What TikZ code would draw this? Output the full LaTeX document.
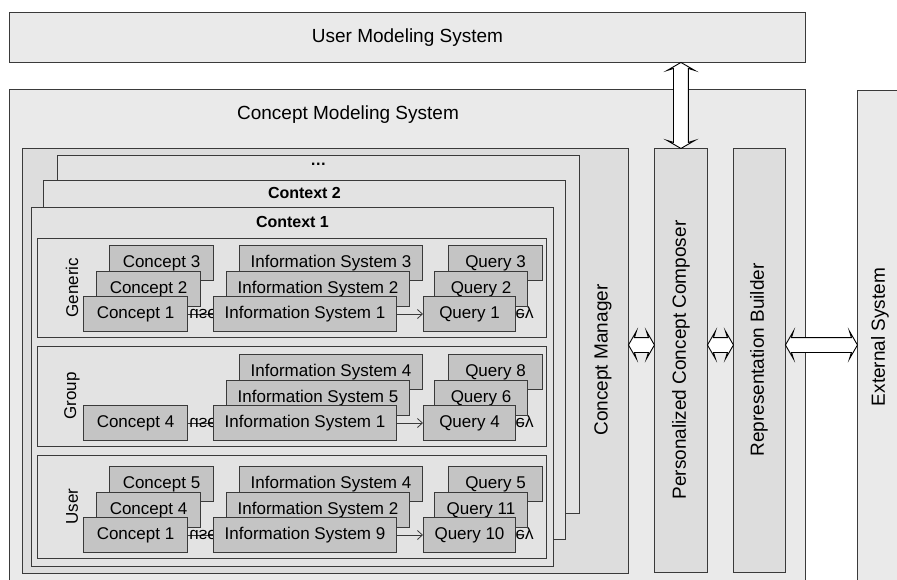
\documentclass[tikz,border=0pt]{standalone}
\usepackage{fontspec}
\setmainfont{Liberation Sans}
\usetikzlibrary{shapes.arrows,arrows.meta}
\pgfdeclarelayer{bg}
\pgfdeclarelayer{mid}
\pgfsetlayers{bg,mid,main}
\definecolor{sysfill}{HTML}{EAEAEA}
\definecolor{colfill}{HTML}{DDDDDD}
\definecolor{ctxfill}{HTML}{E3E3E3}
\definecolor{itemfill}{HTML}{C4C4C4}
\definecolor{edge}{HTML}{3A3A3A}
\tikzset{
  sys/.style={draw=edge, line width=0.9pt, fill=sysfill, anchor=north west, inner sep=0, font=\fontsize{19}{22}\selectfont},
  colbox/.style={draw=edge, line width=0.9pt, fill=colfill, anchor=north west, inner sep=0},
  ctxbox/.style={draw=edge, line width=0.9pt, fill=ctxfill, anchor=north west, inner sep=0},
  itembox/.style={draw=edge, line width=1pt, fill=itemfill, anchor=north west, inner sep=0, font=\fontsize{17}{20}\selectfont},
  vlab/.style={rotate=90, inner sep=0, font=\fontsize{19}{22}\selectfont},
  ctxlab/.style={inner sep=0, font=\fontsize{16}{19}\selectfont\bfseries},
  rowlab/.style={rotate=90, inner sep=0, font=\fontsize{17}{20}\selectfont},
  flip/.style={yscale=-1, inner sep=0, font=\fontsize{17}{20}\selectfont},
  conn/.style={draw=edge, line width=0.8pt},
  dblarrow/.style={double arrow, draw=black, line width=0.9pt, fill=white, inner xsep=0, inner ysep=7pt, double arrow head extend=6.5pt, double arrow tip angle=120, double arrow head indent=2pt}
}
\begin{document}
\begin{tikzpicture}[x=1pt, y=-1pt, >={Straight Barb[length=5pt,width=9pt]}]
	\def\cw{104} \def\iw{183} \def\qw{92} \def\bh{35} % box sizes
	\useasboundingbox (0,0) rectangle (897,579);
	\clip (0,0) rectangle (897,579);
	\begin{pgfonlayer}{bg}
		\node[sys, minimum width=796, minimum height=50] (ums) at (9,12) {User Modeling System};
		\node[sys, minimum width=796, minimum height=520] (cms) at (9,89) {};
		\node[sys, minimum width=60, minimum height=520] (ext) at (857,90) {};
		\node[colbox, minimum width=606, minimum height=425] (cmgr) at (22,148) {};
		\node[colbox, minimum width=53, minimum height=424] (pcc) at (654,148) {};
		\node[colbox, minimum width=52, minimum height=424] (rb) at (733,148) {};
		\node[ctxbox, minimum width=522, minimum height=358] (ctx3) at (57,155) {};
		\node[ctxbox, minimum width=522, minimum height=359] (ctx2) at (43,180) {};
		\node[ctxbox, minimum width=522, minimum height=359] (ctx1) at (31,207) {};
	\end{pgfonlayer}
	\node[sys, draw=none, fill=none, anchor=center] (cmsl) at (348,115) {Concept Modeling System};
	\node[vlab] (extl) at (880,337) {External System};
	\node[vlab] (cmgrl) at (603,360) {Concept Manager};
	\node[vlab] (pccl) at (681,360) {Personalized Concept Composer};
	\node[vlab] (rbl) at (759,360) {Representation Builder};
	\node[ctxlab] (ctx3l) at ([yshift=-9]ctx3.north) {\dots};
	\node[ctxlab] (ctx2l) at ([yshift=-13]ctx2.north) {Context 2};
	\node[ctxlab] (ctx1l) at ([yshift=-15]ctx1.north) {Context 1};
	% rows of context 1
	\foreach \n/\lab/\top/\bot/\nc/\ca/\cb/\cc/\ia/\ib/\ic/\qa/\qb/\qc in {
		gen/Generic/238/337/3/Concept 3/Concept 2/Concept 1/Information System 3/Information System 2/Information System 1/Query 3/Query 2/Query 1,
		grp/Group/346/446/1/-/-/Concept 4/Information System 4/Information System 5/Information System 1/Query 8/Query 6/Query 4,
		usr/User/455/558/3/Concept 5/Concept 4/Concept 1/Information System 4/Information System 2/Information System 9/Query 5/Query 11/Query 10}{
		\pgfmathsetmacro\fy{\bot-6-\bh}
		\begin{pgfonlayer}{bg}
			\node[ctxbox, minimum width=509, minimum height=\bot-\top] (row-\n) at (37,\top) {};
		\end{pgfonlayer}
		\node[rowlab] (lab-\n) at (72,{(\top+\bot)/2}) {\lab};
		\ifnum\nc>1
			\node[itembox, minimum width=\cw, minimum height=\bh] (\n-c3) at (109,\fy-51) {\ca};
			\node[itembox, minimum width=\cw, minimum height=\bh] (\n-c2) at (96,\fy-25) {\cb};
		\fi
		\node[itembox, minimum width=\cw, minimum height=\bh] (\n-c1) at (83,\fy) {\cc};
		\node[itembox, minimum width=\iw, minimum height=\bh] (\n-i3) at (239,\fy-51) {\ia};
		\node[itembox, minimum width=\iw, minimum height=\bh] (\n-i2) at (226,\fy-25) {\ib};
		\node[itembox, minimum width=\iw, minimum height=\bh] (\n-i1) at (213,\fy) {\ic};
		\node[itembox, minimum width=\qw+2, minimum height=\bh] (\n-q3) at (448,\fy-51) {\qa};
		\node[itembox, minimum width=\qw+1, minimum height=\bh] (\n-q2) at (434,\fy-25) {\qb};
		\node[itembox, minimum width=\qw, minimum height=\bh] (\n-q1) at (423,\fy) {\qc};
		\begin{pgfonlayer}{mid}
			\draw[conn] (\n-c1) -- node[flip, pos=0, anchor=west, xshift=1] (use-\n) {use} (\n-i1);
			\draw[conn, ->] (\n-i1) -- (\n-q1);
			\node[flip, anchor=west] (key-\n) at ([xshift=-9]\n-q1.east) {key};
		\end{pgfonlayer}
	}
	% hollow arrows
	\coordinate (ay) at (0,345);
	\path (ums.south -| pcc.north) -- (pcc.north) node[midway, dblarrow, rotate=90, minimum height=86] (a0) {};
	\path (cmgr.east |- ay) -- (pcc.west |- ay) node[midway, dblarrow, minimum height=26] (a1) {};
	\path (pcc.east |- ay) -- (rb.west |- ay) node[midway, dblarrow, minimum height=26] (a2) {};
	\path (rb.east |- ay) -- (ext.west |- ay) node[midway, dblarrow, minimum height=72] (a3) {};
\end{tikzpicture}
\end{document}
